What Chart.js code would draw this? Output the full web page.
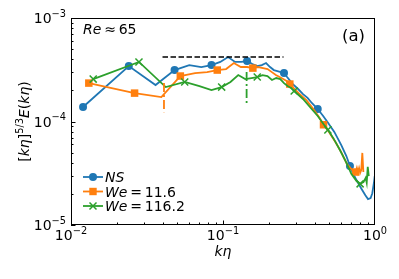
<!DOCTYPE html>
<html>
<head>
<meta charset="utf-8">
<title>Energy spectrum</title>
<script src="https://cdn.jsdelivr.net/npm/chart.js@4.4.0/dist/chart.umd.min.js"></script>
<style>
  html, body { margin: 0; padding: 0; background: #fff; }
  canvas { display: block; }
</style>
</head>
<body>
<canvas id="spectrum" width="399" height="279"></canvas>
<script>
// Spectrum values (k*eta, compensated E)
const nsK = [0.012, 0.024, 0.036, 0.048, 0.060, 0.072, 0.084, 0.096, 0.108, 0.120, 0.132, 0.144, 0.156, 0.168, 0.180,
  0.192, 0.204, 0.216, 0.228, 0.240, 0.252, 0.264, 0.288, 0.312, 0.336, 0.360, 0.384, 0.420, 0.456, 0.492, 0.540,
  0.600, 0.648, 0.684, 0.720, 0.768, 0.816, 0.864, 0.900, 0.936, 0.960, 0.984, 0.996];
const nsE = [1.38e-4, 3.43e-4, 2.25e-4, 3.14e-4, 3.51e-4, 3.36e-4, 3.51e-4, 3.76e-4, 4.20e-4, 3.76e-4, 3.76e-4, 3.84e-4,
  3.59e-4, 3.43e-4, 3.51e-4, 3.67e-4, 3.36e-4, 3.14e-4, 3.07e-4, 3.00e-4, 2.94e-4, 2.69e-4, 2.30e-4, 2.06e-4, 1.84e-4,
  1.69e-4, 1.51e-4, 1.32e-4, 1.13e-4, 9.67e-5, 7.93e-5, 5.92e-5, 4.64e-5, 3.72e-5, 3.11e-5, 2.60e-5, 2.23e-5, 1.94e-5,
  1.78e-5, 1.82e-5, 2.03e-5, 2.56e-5, 2.97e-5];
const nsMarkK = [0.012, 0.024, 0.048, 0.084, 0.144, 0.252, 0.420, 0.684];

const weLoK = [0.0131, 0.0262, 0.0393, 0.0524, 0.0655, 0.0786, 0.0917, 0.1048, 0.1179, 0.1310, 0.1441, 0.1572, 0.1703,
  0.1834, 0.1965, 0.2096, 0.2227, 0.2358, 0.2489, 0.2620, 0.2751, 0.3144, 0.3537, 0.3930, 0.4323, 0.4585, 0.4978,
  0.5502, 0.6026, 0.6550, 0.7074, 0.7467, 0.7598, 0.7729, 0.7860, 0.7991, 0.8122, 0.8253, 0.8384];
const weLoE = [2.35e-4, 1.88e-4, 1.72e-4, 2.75e-4, 2.94e-4, 3.00e-4, 3.14e-4, 3.21e-4, 3.67e-4, 3.36e-4, 3.36e-4, 3.28e-4,
  3.36e-4, 3.28e-4, 3.21e-4, 3.00e-4, 2.81e-4, 2.69e-4, 2.57e-4, 2.46e-4, 2.30e-4, 1.88e-4, 1.61e-4, 1.32e-4, 1.08e-4,
  9.30e-5, 7.93e-5, 6.30e-5, 4.97e-5, 3.87e-5, 3.40e-5, 3.25e-5, 3.55e-5, 3.20e-5, 3.55e-5, 3.20e-5, 3.40e-5, 4.97e-5,
  3.25e-5];
const weLoMarkK = [0.0131, 0.0262, 0.0524, 0.0917, 0.1572, 0.2751, 0.4585, 0.7467];

const weHiK = [0.014, 0.028, 0.042, 0.056, 0.070, 0.084, 0.098, 0.112, 0.126, 0.140, 0.154, 0.168, 0.182, 0.196, 0.210,
  0.224, 0.238, 0.252, 0.266, 0.280, 0.294, 0.336, 0.378, 0.420, 0.462, 0.490, 0.532, 0.588, 0.644, 0.700, 0.756,
  0.798, 0.840, 0.868, 0.882, 0.896, 0.910];
const weHiE = [2.57e-4, 3.76e-4, 2.15e-4, 2.41e-4, 2.20e-4, 2.01e-4, 2.15e-4, 2.41e-4, 2.81e-4, 2.57e-4, 2.63e-4, 2.69e-4,
  2.81e-4, 2.75e-4, 2.52e-4, 2.63e-4, 2.57e-4, 2.35e-4, 2.20e-4, 2.11e-4, 1.97e-4, 1.65e-4, 1.35e-4, 1.13e-4, 9.30e-5,
  8.30e-5, 6.90e-5, 5.30e-5, 4.07e-5, 3.11e-5, 2.66e-5, 2.50e-5, 2.60e-5, 2.85e-5, 2.56e-5, 3.64e-5, 2.97e-5];
const weHiMarkK = [0.014, 0.028, 0.056, 0.098, 0.168, 0.294, 0.490, 0.798];

// Reference -5/3 plateau and the two vertical scale markers
const refK = [0.040, 0.250];
const refE = [4.2e-4, 4.2e-4];
const weLoScaleK = [0.0409, 0.0409];
const weLoScaleE = [2.35e-4, 1.23e-4];
const weHiScaleK = [0.143, 0.143];
const weHiScaleE = [3.0e-4, 1.41e-4];

// Axis ticks
const xMajor = [0.01, 0.1, 1];
const xExp = ['\u22122', '\u22121', '0'];
const yMajor = [1e-5, 1e-4, 1e-3];
const yExp = ['\u22125', '\u22124', '\u22123'];

const BLUE = '#1f77b4';
const ORANGE = '#ff7f0e';
const GREEN = '#2ca02c';
const FONT = "'DejaVu Sans', sans-serif";
const SIZE = 14;

const canvas = document.getElementById('spectrum');

function points(ks, es) {
  return ks.map((k, i) => ({ x: k, y: es[i] }));
}

function radii(ks, marks, r) {
  return ks.map(k => marks.includes(k) ? r : 0);
}

// Draw mixed text: parts are {t, i (italic), s (superscript)}
function drawRich(ctx, parts, x, y, align) {
  let total = 0;
  parts.forEach(p => {
    ctx.font = fontFor(p);
    p.w = ctx.measureText(p.t).width;
    total += p.w;
  });
  let cx = x;
  if (align === 'center') cx = x - total / 2;
  if (align === 'right') cx = x - total;
  ctx.textAlign = 'left';
  ctx.textBaseline = 'alphabetic';
  parts.forEach(p => {
    ctx.font = fontFor(p);
    ctx.fillText(p.t, cx, p.s ? y - 6.5 : y);
    cx += p.w;
  });
}

function fontFor(p) {
  const size = p.s ? SIZE * 0.7 : SIZE;
  return (p.i ? 'italic ' : '') + size + 'px ' + FONT;
}

function drawMarker(ctx, style, color, x, y) {
  ctx.fillStyle = color;
  ctx.strokeStyle = color;
  ctx.lineWidth = 1.5;
  ctx.beginPath();
  if (style === 'circle') {
    ctx.arc(x, y, 4, 0, Math.PI * 2);
    ctx.fill();
  } else if (style === 'rect') {
    ctx.fillRect(x - 3.7, y - 3.7, 7.4, 7.4);
  } else {
    ctx.moveTo(x - 3.5, y - 3.5); ctx.lineTo(x + 3.5, y + 3.5);
    ctx.moveTo(x - 3.5, y + 3.5); ctx.lineTo(x + 3.5, y - 3.5);
    ctx.stroke();
  }
}

// Frame, inward ticks, labels, legend and annotations
const decorations = {
  id: 'decorations',
  afterDraw(chart) {
    const { ctx, chartArea: a } = chart;
    const xs = chart.scales.x;
    const ys = chart.scales.y;
    ctx.save();
    ctx.strokeStyle = '#000';
    ctx.lineWidth = 1;
    ctx.strokeRect(a.left + 0.5, a.top + 0.5, a.right - a.left - 1, a.bottom - a.top - 1);

    // x ticks
    ctx.beginPath();
    for (let d = -2; d < 0; d++) {
      for (let m = 1; m <= 9; m++) {
        const px = Math.round(xs.getPixelForValue(m * Math.pow(10, d))) + 0.5;
        const len = m === 1 ? 4.5 : 2.5;
        ctx.moveTo(px, a.bottom);
        ctx.lineTo(px, a.bottom - len);
      }
    }
    // y ticks
    for (let d = -5; d < -3; d++) {
      for (let m = 1; m <= 9; m++) {
        const py = Math.round(ys.getPixelForValue(m * Math.pow(10, d))) + 0.5;
        const len = m === 1 ? 4.5 : 2.5;
        ctx.moveTo(a.left, py);
        ctx.lineTo(a.left + len, py);
      }
    }
    ctx.stroke();

    ctx.fillStyle = '#000';
    xMajor.forEach((v, i) => {
      drawRich(ctx, [{ t: '10' }, { t: xExp[i], s: true }], xs.getPixelForValue(v), a.bottom + 15, 'center');
    });
    yMajor.forEach((v, i) => {
      drawRich(ctx, [{ t: '10' }, { t: yExp[i], s: true }], a.left - 5, ys.getPixelForValue(v) + 5, 'right');
    });

    // axis titles
    drawRich(ctx, [{ t: 'k\u03b7', i: true }], (a.left + a.right) / 2, a.bottom + 31, 'center');
    ctx.save();
    ctx.translate(29, (a.top + a.bottom) / 2);
    ctx.rotate(-Math.PI / 2);
    drawRich(ctx, [
      { t: '[' }, { t: 'k\u03b7', i: true }, { t: ']' }, { t: '5/3', s: true },
      { t: 'E', i: true }, { t: '(' }, { t: 'k\u03b7', i: true }, { t: ')' }
    ], 0, 0, 'center');
    ctx.restore();

    // annotations
    drawRich(ctx, [{ t: 'Re', i: true }, { t: '\u2009\u2248\u2009' }, { t: '65' }], 83, 34, 'left');
    ctx.font = '16.5px ' + FONT;
    ctx.textAlign = 'right';
    ctx.fillText('(a)', 365, 41);

    // legend
    const rows = [
      { color: BLUE, style: 'circle', parts: [{ t: 'NS', i: true }] },
      { color: ORANGE, style: 'rect', parts: [{ t: 'We', i: true }, { t: '\u2009=\u2009' }, { t: '11.6' }] },
      { color: GREEN, style: 'cross', parts: [{ t: 'We', i: true }, { t: '\u2009=\u2009' }, { t: '116.2' }] }
    ];
    rows.forEach((row, i) => {
      const y = 177 + i * 14.5;
      ctx.strokeStyle = row.color;
      ctx.lineWidth = 1.8;
      ctx.beginPath();
      ctx.moveTo(83, y);
      ctx.lineTo(103, y);
      ctx.stroke();
      drawMarker(ctx, row.style, row.color, 93, y);
      ctx.fillStyle = '#000';
      drawRich(ctx, row.parts, 105, y + 5, 'left');
    });
    ctx.restore();
  }
};

new Chart(canvas, {
  type: 'line',
  data: {
    datasets: [
      {
        label: 'NS',
        data: points(nsK, nsE),
        borderColor: BLUE,
        backgroundColor: BLUE,
        borderWidth: 1.8,
        pointStyle: 'circle',
        pointRadius: radii(nsK, nsMarkK, 4),
        pointBorderWidth: 0,
        order: 5
      },
      {
        label: 'We = 11.6',
        data: points(weLoK, weLoE),
        borderColor: ORANGE,
        backgroundColor: ORANGE,
        borderWidth: 1.8,
        pointStyle: 'rect',
        pointRadius: radii(weLoK, weLoMarkK, 5.3),
        pointBorderWidth: 0,
        order: 4
      },
      {
        label: 'We = 116.2',
        data: points(weHiK, weHiE),
        borderColor: GREEN,
        backgroundColor: GREEN,
        borderWidth: 1.8,
        pointStyle: 'crossRot',
        pointRadius: radii(weHiK, weHiMarkK, 5),
        pointBorderWidth: 1.5,
        order: 3
      },
      {
        label: 'plateau',
        data: points(refK, refE),
        borderColor: '#000',
        borderWidth: 1.5,
        borderDash: [5.5, 2.5],
        pointRadius: 0,
        order: 2
      },
      {
        label: 'scale We 11.6',
        data: points(weLoScaleK, weLoScaleE),
        borderColor: ORANGE,
        borderWidth: 1.8,
        borderDash: [9, 3, 2, 3],
        pointRadius: 0,
        order: 1
      },
      {
        label: 'scale We 116.2',
        data: points(weHiScaleK, weHiScaleE),
        borderColor: GREEN,
        borderWidth: 1.8,
        borderDash: [9, 3, 2, 3],
        pointRadius: 0,
        order: 0
      }
    ]
  },
  options: {
    responsive: false,
    animation: false,
    layout: { padding: { left: 71, right: 24, top: 18, bottom: 54 } },
    scales: {
      x: { type: 'logarithmic', min: 0.01, max: 1, display: false },
      y: { type: 'logarithmic', min: 1e-5, max: 1e-3, display: false }
    },
    plugins: {
      legend: { display: false },
      tooltip: { enabled: false }
    }
  },
  plugins: [decorations]
});
</script>
</body>
</html>
